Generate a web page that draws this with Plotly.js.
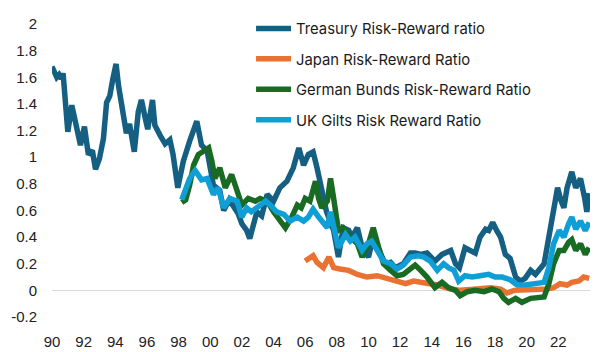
<!DOCTYPE html>
<html>
<head>
<meta charset="utf-8">
<script src="https://cdn.plot.ly/plotly-3.0.1.min.js"></script>
<style>html,body{margin:0;padding:0;background:#fff;}#chart{width:607px;height:352px;}</style>
</head>
<body>
<div id="chart"></div>
<script>
// Series names
const seriesNames = ["Treasury Risk-Reward ratio", "Japan Risk-Reward Ratio", "German Bunds Risk-Reward Ratio", "UK Gilts Risk Reward Ratio"];

// Treasury (decimal years, values)
const treasuryX = [1990.0,1990.15,1990.3,1990.45,1990.6,1990.7,1990.85,1991.0,1991.25,1991.45,1991.8,1992.05,1992.3,1992.55,1992.75,1993.0,1993.25,1993.45,1993.65,1993.85,1994.05,1994.2,1994.5,1994.7,1994.9,1995.2,1995.45,1995.65,1995.9,1996.05,1996.35,1996.5,1996.85,1997.15,1997.45,1997.65,1997.95,1998.3,1998.7,1999.15,1999.45,1999.8,2000.0,2000.2,2000.6,2000.85,2001.2,2001.5,2001.75,2002.0,2002.3,2002.5,2002.75,2002.95,2003.25,2003.6,2004.0,2004.4,2004.85,2005.25,2005.6,2005.9,2006.2,2006.5,2006.75,2006.95,2007.15,2007.35,2007.8,2008.1,2008.4,2008.75,2008.95,2009.3,2009.6,2010.0,2010.3,2010.65,2011.05,2011.4,2011.7,2012.2,2012.65,2012.95,2013.3,2013.7,2014.2,2014.65,2015.2,2015.5,2015.75,2016.1,2016.45,2016.75,2017.05,2017.4,2017.6,2017.85,2018.1,2018.35,2018.65,2018.95,2019.3,2019.6,2019.9,2020.25,2020.55,2020.85,2021.1,2021.4,2021.7,2021.95,2022.15,2022.35,2022.55,2022.85,2023.1,2023.4,2023.65,2023.8,2023.95];
const treasuryY = [1.68,1.63,1.60,1.62,1.59,1.63,1.41,1.19,1.39,1.29,1.09,1.23,1.02,1.05,0.91,0.99,1.14,1.41,1.46,1.59,1.70,1.54,1.29,1.18,1.25,1.04,1.34,1.43,1.29,1.21,1.43,1.24,1.16,1.10,1.13,1.02,0.77,0.97,1.12,1.27,1.09,1.05,0.92,0.79,0.75,0.60,0.68,0.62,0.58,0.50,0.45,0.39,0.50,0.59,0.56,0.72,0.67,0.77,0.82,0.92,1.07,0.94,1.02,1.04,0.92,0.82,0.69,0.59,0.45,0.25,0.47,0.45,0.40,0.47,0.32,0.25,0.40,0.30,0.20,0.21,0.17,0.20,0.28,0.28,0.27,0.28,0.22,0.27,0.30,0.20,0.17,0.32,0.30,0.28,0.40,0.46,0.45,0.51,0.45,0.40,0.27,0.24,0.10,0.07,0.09,0.15,0.12,0.17,0.20,0.40,0.59,0.77,0.68,0.62,0.77,0.89,0.77,0.84,0.70,0.59,0.73];

// Japan
const japanX = [2006.0,2006.3,2006.5,2006.75,2007.15,2007.5,2007.8,2008.2,2008.75,2009.3,2009.9,2010.55,2011.2,2011.8,2012.35,2012.85,2013.5,2014.35,2015.2,2015.8,2016.85,2017.7,2018.35,2018.75,2019.2,2019.8,2020.45,2021.3,2021.7,2022.1,2022.55,2022.85,2023.3,2023.6,2023.95];
const japanY = [0.22,0.24,0.26,0.21,0.17,0.25,0.17,0.16,0.15,0.12,0.10,0.11,0.09,0.07,0.05,0.07,0.06,0.04,0.01,0.00,0.01,0.02,0.01,-0.02,0.00,0.00,0.00,0.01,0.02,0.05,0.04,0.06,0.07,0.10,0.09];

// German Bunds
const germanX = [1998.2,1998.45,1998.7,1998.95,1999.25,1999.55,1999.9,2000.1,2000.3,2000.6,2000.95,2001.35,2001.7,2002.0,2002.4,2002.85,2003.15,2003.6,2004.0,2004.4,2004.75,2005.15,2005.5,2005.75,2006.0,2006.3,2006.65,2006.85,2007.05,2007.4,2007.6,2007.8,2008.1,2008.4,2008.85,2009.3,2009.6,2010.0,2010.3,2010.65,2010.95,2011.4,2011.8,2012.2,2012.65,2012.95,2013.3,2013.7,2014.2,2014.65,2015.05,2015.5,2015.8,2016.25,2016.75,2017.3,2017.8,2018.25,2018.55,2018.85,2019.3,2019.7,2020.25,2020.75,2021.1,2021.4,2021.7,2022.05,2022.35,2022.65,2022.85,2023.1,2023.4,2023.7,2023.95];
const germanY = [0.66,0.68,0.79,0.94,1.02,1.04,1.07,0.97,0.84,0.92,0.77,0.87,0.74,0.64,0.69,0.67,0.69,0.67,0.59,0.52,0.47,0.55,0.64,0.62,0.69,0.67,0.82,0.69,0.62,0.67,0.84,0.69,0.45,0.47,0.40,0.35,0.25,0.35,0.47,0.32,0.20,0.15,0.11,0.12,0.17,0.19,0.15,0.10,0.02,0.06,0.02,0.00,-0.04,-0.01,0.00,-0.01,0.01,-0.01,-0.06,-0.09,-0.06,-0.09,-0.06,-0.05,-0.05,0.05,0.20,0.30,0.30,0.36,0.38,0.30,0.35,0.27,0.32];

// UK Gilts
const ukX = [1998.2,1998.5,1998.7,1999.05,1999.25,1999.45,1999.8,2000.0,2000.2,2000.5,2000.85,2001.25,2001.7,2002.0,2002.3,2002.6,2002.95,2003.5,2003.8,2004.2,2004.65,2005.05,2005.5,2005.9,2006.2,2006.5,2006.85,2007.15,2007.4,2007.6,2007.8,2008.1,2008.55,2008.85,2009.15,2009.6,2009.9,2010.2,2010.55,2010.95,2011.4,2011.8,2012.2,2012.65,2013.15,2013.5,2013.9,2014.35,2014.75,2015.05,2015.4,2015.7,2016.1,2016.55,2017.05,2017.6,2018.0,2018.45,2018.95,2019.4,2019.9,2020.45,2020.85,2021.1,2021.4,2021.7,2022.05,2022.35,2022.65,2022.85,2023.1,2023.4,2023.7,2023.95];
const ukY = [0.68,0.79,0.84,0.90,0.87,0.83,0.84,0.79,0.72,0.77,0.62,0.69,0.67,0.55,0.62,0.59,0.62,0.67,0.64,0.59,0.57,0.52,0.55,0.52,0.55,0.61,0.55,0.50,0.47,0.59,0.47,0.32,0.42,0.37,0.40,0.30,0.35,0.37,0.30,0.22,0.20,0.16,0.19,0.25,0.26,0.25,0.22,0.15,0.20,0.17,0.15,0.07,0.11,0.10,0.11,0.12,0.10,0.10,0.08,0.04,0.04,0.05,0.06,0.06,0.17,0.35,0.45,0.40,0.50,0.55,0.46,0.52,0.45,0.51];

// Axis ticks
const xTickVals = [1990,1992,1994,1996,1998,2000,2002,2004,2006,2008,2010,2012,2014,2016,2018,2020,2022];
const xTickText = ["90","92","94","96","98","00","02","04","06","08","10","12","14","16","18","20","22"];
const yTickVals = [-0.2,0,0.2,0.4,0.6,0.8,1,1.2,1.4,1.6,1.8,2];
const yTickText = ["-0.2","0","0.2","0.4","0.6","0.8","1","1.2","1.4","1.6","1.8","2"];

const colors = ["#156082", "#E97132", "#196B24", "#0F9ED5"];
const xs = [treasuryX, japanX, germanX, ukX];
const ys = [treasuryY, japanY, germanY, ukY];

const traces = seriesNames.map((n, i) => ({
  x: xs[i], y: ys[i], name: n, type: "scatter", mode: "lines",
  line: {color: colors[i], width: 5.5, shape: "linear"},
  legendgroup: "g" + i
}));

const layout = {
  width: 607, height: 352,
  margin: {l: 52, r: 17, t: 21, b: 35},
  paper_bgcolor: "#fff", plot_bgcolor: "#fff",
  font: {family: "Liberation Sans, Arial, sans-serif", size: 15, color: "#222"},
  showlegend: true,
  legend: {
    x: 0.37, xanchor: "left", y: 1.04, yanchor: "top",
    bgcolor: "rgba(0,0,0,0)", tracegroupgap: 8.2, itemwidth: 35,
    font: {family: "Inter, Liberation Sans, sans-serif", size: 14.8, color: "#1a1a1a"}
  },
  xaxis: {
    range: [1990, 2024], tickmode: "array", tickvals: xTickVals, ticktext: xTickText,
    showgrid: false, zeroline: false, showline: false, ticks: "",
    ticklabelstandoff: 14, fixedrange: true
  },
  yaxis: {
    range: [-0.2, 2.0], tickmode: "array", tickvals: yTickVals, ticktext: yTickText,
    showgrid: false, zeroline: true, zerolinecolor: "#d9d9d9", zerolinewidth: 1.2,
    showline: false, ticks: "", ticklabelstandoff: 14, fixedrange: true
  }
};

Plotly.newPlot("chart", traces, layout, {displayModeBar: false, staticPlot: true});
</script>
</body>
</html>
